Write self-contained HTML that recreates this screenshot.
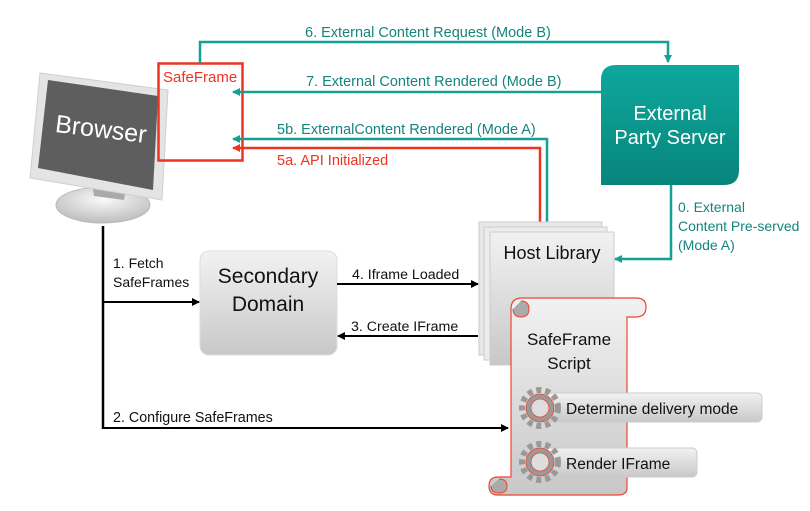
<!DOCTYPE html>
<html><head><meta charset="utf-8"><style>
body{margin:0;background:#fff}
svg{display:block;font-family:"Liberation Sans",sans-serif}
</style></head><body>
<svg width="810" height="511" viewBox="0 0 810 511" xmlns="http://www.w3.org/2000/svg">
<defs>
<linearGradient id="g1" x1="0" y1="0" x2="0" y2="1"><stop offset="0" stop-color="#f2f2f2"/><stop offset="1" stop-color="#c8c8c8"/></linearGradient>
<linearGradient id="tg" x1="0" y1="0" x2="0" y2="1"><stop offset="0" stop-color="#0ea89c"/><stop offset="1" stop-color="#07857c"/></linearGradient>
<radialGradient id="bg" cx="0.5" cy="0.35" r="0.7"><stop offset="0" stop-color="#fafafa"/><stop offset="1" stop-color="#b8b8b8"/></radialGradient>
<marker id="at" markerWidth="8" markerHeight="8" refX="7" refY="4" orient="auto" markerUnits="userSpaceOnUse"><path d="M0,0 L8,4 L0,8 Z" fill="#14a096"/></marker>
<marker id="ar" markerWidth="8" markerHeight="8" refX="7" refY="4" orient="auto" markerUnits="userSpaceOnUse"><path d="M0,0 L8,4 L0,8 Z" fill="#ee3322"/></marker>
<marker id="ab" markerWidth="8" markerHeight="8" refX="7" refY="4" orient="auto" markerUnits="userSpaceOnUse"><path d="M0,0 L8,4 L0,8 Z" fill="#000"/></marker>
</defs>

<!-- Browser -->
<ellipse cx="103" cy="205" rx="47" ry="18" fill="url(#bg)" stroke="#bbb"/>
<polygon points="92,182 126,188 124,200 94,196" fill="#aaa"/>
<polygon points="40,73 168,90 162,200 30,178" fill="#e4e4e4" stroke="#d0d0d0"/>
<polygon points="48,80 158,96 153,190 38,168" fill="#5e5e5e"/>
<text x="55" y="137" font-size="25" fill="#fff" transform="rotate(7 97 130)">Browser</text>

<!-- SafeFrame box -->
<rect x="158.5" y="63.5" width="84" height="97" fill="none" stroke="#ee3322" stroke-width="2.5"/>
<text x="163" y="82" font-size="15" fill="#ee3322">SafeFrame</text>

<!-- teal lines -->
<polyline points="200,63 200,42 668,42 668,62" fill="none" stroke="#14a096" stroke-width="2.5" marker-end="url(#at)"/>
<text x="305" y="37" font-size="14.5" fill="#14857c">6. External Content Request (Mode B)</text>
<line x1="601" y1="92" x2="233" y2="92" stroke="#14a096" stroke-width="2.5" marker-end="url(#at)"/>
<text x="306" y="86" font-size="14.5" fill="#14857c">7. External Content Rendered (Mode B)</text>
<polyline points="547,222 547,139 233,139" fill="none" stroke="#14a096" stroke-width="2.5" marker-end="url(#at)"/>
<text x="277" y="134" font-size="14.5" fill="#14857c">5b. ExternalContent Rendered (Mode A)</text>
<polyline points="540,222 540,148 233,148" fill="none" stroke="#ee3322" stroke-width="2.5" marker-end="url(#ar)"/>
<text x="277" y="165" font-size="14.5" fill="#ee3322">5a. API Initialized</text>

<!-- External party server -->
<path d="M616,65 H739 V170 Q739,185 724,185 H601 V80 Q601,65 616,65 Z" fill="url(#tg)"/>
<text x="670" y="120" font-size="20" fill="#fff" text-anchor="middle">External</text>
<text x="670" y="144" font-size="20" fill="#fff" text-anchor="middle">Party Server</text>
<polyline points="671,185 671,259 615,259" fill="none" stroke="#14a096" stroke-width="2.5" marker-end="url(#at)"/>
<text x="678" y="212" font-size="14" fill="#14857c">0. External</text>
<text x="678" y="231" font-size="14" fill="#14857c">Content Pre-served</text>
<text x="678" y="250" font-size="14" fill="#14857c">(Mode A)</text>

<!-- Host library pages -->
<rect x="479" y="222" width="123" height="133" fill="#e8e8e8" stroke="#ccc"/>
<rect x="484" y="227" width="123" height="133" fill="#ececec" stroke="#ccc"/>
<rect x="490" y="232" width="124" height="133" fill="url(#g1)" stroke="#ccc"/>
<text x="552" y="259" font-size="18" fill="#111" text-anchor="middle">Host Library</text>

<!-- Secondary domain -->
<rect x="200" y="251" width="137" height="104" rx="9" fill="url(#g1)" stroke="#ddd"/>
<text x="268" y="283" font-size="21" fill="#111" text-anchor="middle">Secondary</text>
<text x="268" y="311" font-size="21" fill="#111" text-anchor="middle">Domain</text>
<line x1="337" y1="284" x2="478" y2="284" stroke="#000" stroke-width="2" marker-end="url(#ab)"/>
<text x="352" y="279" font-size="14.2" fill="#111">4. Iframe Loaded</text>
<line x1="478" y1="336" x2="338" y2="336" stroke="#000" stroke-width="2" marker-end="url(#ab)"/>
<text x="351" y="331" font-size="14.2" fill="#111">3. Create IFrame</text>

<!-- black branches -->
<line x1="103" y1="226" x2="103" y2="429" stroke="#000" stroke-width="2.5"/>
<line x1="103" y1="302" x2="199" y2="302" stroke="#000" stroke-width="2" marker-end="url(#ab)"/>
<text x="113" y="268" font-size="14" fill="#111">1. Fetch</text>
<text x="113" y="287" font-size="14" fill="#111">SafeFrames</text>
<line x1="102" y1="428" x2="508" y2="428" stroke="#000" stroke-width="2" marker-end="url(#ab)"/>
<text x="113" y="422" font-size="14.3" fill="#111">2. Configure SafeFrames</text>

<!-- Scroll -->
<path d="M522,298 H636 Q646,298 646,307 Q646,317 636,317 H627 V488 Q627,495 618,495 H498 Q489,495 489,486 Q489,477 498,477 H511 V309 Q511,298 522,298 Z" fill="url(#g1)" stroke="#ee4433" stroke-width="1.2"/>
<path d="M513,309 Q513,317 521,317 Q529,317 529,309 Q529,301 521,301" fill="#aaa" stroke="#ee4433" stroke-width="1"/>
<path d="M491,486 Q491,493 499,493 Q507,493 507,486 Q507,479 499,479" fill="#aaa" stroke="#ee4433" stroke-width="1"/>
<text x="569" y="345" font-size="17" fill="#111" text-anchor="middle">SafeFrame</text>
<text x="569" y="369" font-size="17" fill="#111" text-anchor="middle">Script</text>

<rect x="545" y="393" width="217" height="29" rx="5" fill="url(#g1)" stroke="#ccc"/>
<text x="566" y="414" font-size="15.5" fill="#111">Determine delivery mode</text>
<rect x="545" y="448" width="152" height="29" rx="5" fill="url(#g1)" stroke="#ccc"/>
<text x="566" y="469" font-size="15.5" fill="#111">Render IFrame</text>

<g fill="#999" stroke="#ee4433" stroke-width="0.8">
<circle cx="540" cy="408" r="18" stroke-dasharray="5 4" stroke-width="6" fill="none" stroke="#999"/>
<circle cx="540" cy="408" r="14"/>
<circle cx="540" cy="408" r="9" fill="#ddd"/>
<circle cx="540" cy="462" r="18" stroke-dasharray="5 4" stroke-width="6" fill="none" stroke="#999"/>
<circle cx="540" cy="462" r="14"/>
<circle cx="540" cy="462" r="9" fill="#ddd"/>
</g>
</svg>
</body></html>
